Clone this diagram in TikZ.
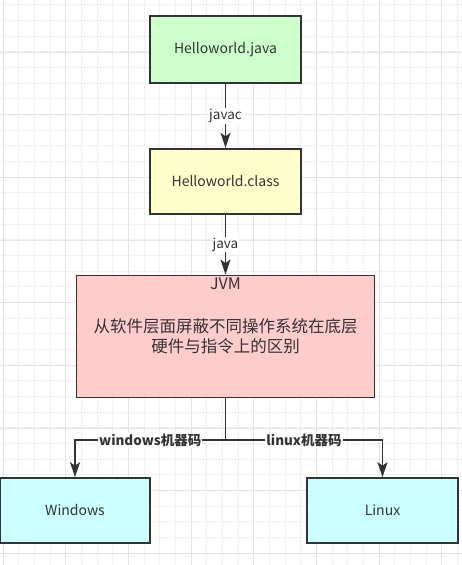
\documentclass[tikz,border=0pt]{standalone}
\usepackage{fontspec}
\setmainfont{Noto Sans CJK SC}
\usetikzlibrary{positioning,arrows.meta}
\definecolor{ink}{HTML}{333333}
\definecolor{edge}{HTML}{333333}
\definecolor{srcfill}{HTML}{CCFFCC}
\definecolor{clsfill}{HTML}{FFFFCC}
\definecolor{jvmfill}{HTML}{FFCCCC}
\definecolor{osfill}{HTML}{CCFFFF}
\definecolor{gridlight}{HTML}{F0F0F0}
\definecolor{griddark}{HTML}{E4E4E4}
\begin{document}
\begin{tikzpicture}
[ x=1pt, y=-1pt
, box/.style={rectangle, draw=edge, line width=1.7pt, text=ink, inner sep=0pt, font=\fontsize{14}{17}\selectfont}
, wire/.style={draw=edge, line width=1.7pt}
, flow/.style={wire, -{Stealth[length=15pt, width=10pt, inset=3.5pt]}}
, tag/.style={fill=white, text=ink, inner sep=1pt, font=\fontsize{13.5}{16}\selectfont}
, boldtag/.style={tag, font=\fontsize{13.5}{16}\selectfont\bfseries}
, gridminor/.style={draw=gridlight, line width=1pt}
, gridmajor/.style={draw=griddark, line width=1pt}
]
\useasboundingbox (0,0) rectangle (462,565);
% Background grid:
\fill[white] (0,0) rectangle (462,565);
\foreach \k in {0,...,29} \draw[gridminor] ({3+15.67*\k},0) -- ({3+15.67*\k},565);
\foreach \k in {0,...,35} \draw[gridminor] (0,{4.7+15.67*\k}) -- (462,{4.7+15.67*\k});
\foreach \k in {0,...,7} \draw[gridmajor] ({3+62.68*\k},0) -- ({3+62.68*\k},565);
\foreach \k in {0,...,8} \draw[gridmajor] (0,{52+62.68*\k}) -- (462,{52+62.68*\k});
% Boxes:
\node (src) [box, fill=srcfill, minimum width=151pt, minimum height=67pt] at (225.5,49.5) {Helloworld.java};
\node (cls) [box, fill=clsfill, minimum width=151pt, minimum height=65pt, below=64pt of src] {Helloworld.class};
\node (jvm) [box, fill=jvmfill, minimum width=298pt, minimum height=122pt, below=60pt of cls, align=center, font=\fontsize{16.5}{20}\selectfont
  , label={[anchor=north, yshift=-2pt, inner sep=1pt, text=ink, font=\fontsize{16}{19}\selectfont]north:JVM}]
  {从软件层面屏蔽不同操作系统在底层\\硬件与指令上的区别};
\coordinate [below=42pt of jvm.south] (split);
\node (win) [box, fill=osfill, minimum width=150pt, minimum height=65pt] at (75,510.5) {Windows};
\node (lnx) [box, fill=osfill, minimum width=151pt, minimum height=65pt] at (382.5,510.5) {Linux};
% Connectors:
\draw [flow] (src) -- node [tag] {javac} (cls);
\draw [flow] (cls) -- node [tag] {java} (jvm);
\draw [wire] (jvm.south) -- (split);
\draw [flow] (split) -| node [boldtag, pos=0.25] {windows机器码} (win);
\draw [flow] (split) -| node [boldtag, pos=0.25] {linux机器码} (lnx);
\end{tikzpicture}
\end{document}
